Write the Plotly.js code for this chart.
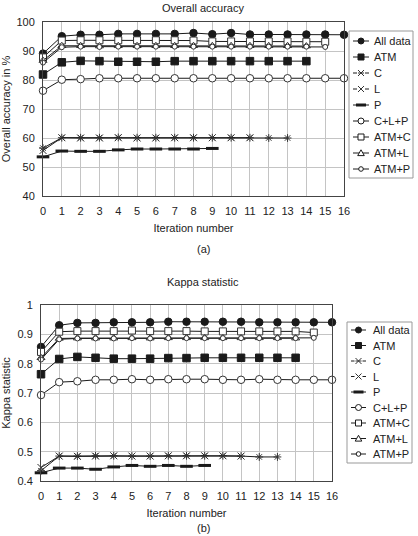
<!DOCTYPE html>
<html>
<head>
<meta charset="utf-8">
<script src="https://cdn.plot.ly/plotly-3.0.1.min.js"></script>
<style>html,body{margin:0;padding:0;background:#fff;}#chart{width:418px;height:536px;}</style>
</head>
<body>
<div id="chart"></div>
<script>
// ---- data ----
const iterations = [0,1,2,3,4,5,6,7,8,9,10,11,12,13,14,15,16];
const seriesNames = ["All data","ATM","C","L","P","C+L+P","ATM+C","ATM+L","ATM+P"];
const xTickLabels = ["0","1","2","3","4","5","6","7","8","9","10","11","12","13","14","15","16"];

// (a) Overall accuracy in %
const accAllData = [89.1,95.1,95.6,95.6,95.9,95.9,95.9,95.9,96.2,95.8,96.2,95.7,95.7,95.7,95.7,95.7,95.6];
const accATM     = [81.9,86.1,86.6,86.5,86.3,86.3,86.3,86.5,86.5,86.5,86.5,86.5,86.5,86.5,86.5];
const accC       = [56.5,60.1,60.1,60.1,60.2,60.1,60.1,60.1,60.1,60.1,60.1,60.1,60.0,60.0];
const accL       = [55.7,60.1,60.0,60.0,60.1,60.0,60.0,60.1,60.1,60.1,60.1,60.1];
const accP       = [53.5,55.5,55.4,55.4,55.9,56.2,56.2,56.2,56.2,56.4];
const accCLP     = [76.3,80.1,80.3,80.6,80.6,80.6,80.6,80.6,80.6,80.6,80.6,80.6,80.6,80.6,80.6,80.6,80.6];
const accATMC    = [87.8,93.6,93.7,93.7,93.7,93.7,93.7,93.7,93.6,93.3,93.3,93.3,93.3,93.3,93.2,93.2];
const accATML    = [86.7,91.8,91.8,91.7,91.8,91.8,91.8,91.8,91.8,91.8,91.8,91.8,91.8,91.8,91.7];
const accATMP    = [86.0,91.3,91.5,91.4,91.5,91.5,91.5,91.5,91.5,91.5,91.5,91.5,91.5,91.5,91.5,91.4];

// (b) Kappa statistic
const kapAllData = [0.857,0.931,0.939,0.939,0.941,0.941,0.941,0.943,0.943,0.943,0.943,0.943,0.941,0.941,0.941,0.941,0.941];
const kapATM     = [0.764,0.816,0.823,0.820,0.817,0.817,0.817,0.819,0.819,0.820,0.820,0.820,0.820,0.820,0.820];
const kapC       = [0.435,0.485,0.485,0.486,0.486,0.485,0.485,0.486,0.486,0.486,0.486,0.485,0.482,0.482];
const kapL       = [0.446,0.485,0.484,0.485,0.486,0.485,0.485,0.486,0.486,0.486,0.486,0.485];
const kapP       = [0.428,0.444,0.444,0.440,0.448,0.453,0.450,0.453,0.450,0.453];
const kapCLP     = [0.693,0.737,0.740,0.745,0.745,0.747,0.745,0.747,0.747,0.747,0.745,0.745,0.747,0.745,0.745,0.745,0.745];
const kapATMC    = [0.840,0.909,0.911,0.911,0.911,0.913,0.911,0.911,0.911,0.910,0.910,0.910,0.910,0.910,0.910,0.906];
const kapATML    = [0.820,0.886,0.887,0.887,0.887,0.888,0.887,0.888,0.888,0.888,0.888,0.888,0.888,0.888,0.887];
const kapATMP    = [0.814,0.883,0.886,0.886,0.886,0.887,0.886,0.887,0.887,0.887,0.887,0.887,0.887,0.887,0.887,0.888];

// ---- styles ----
const FONT = "Liberation Sans, Arial, sans-serif";
const INK = "#1a1a1a";
const markerStyles = {
  "All data": {symbol:"circle", size:7.5, color:INK, line:{color:INK, width:1}},
  "ATM":      {symbol:"square", size:7.5, color:INK, line:{color:INK, width:1}},
  "C":        {symbol:"asterisk-open", size:6.5, color:"#333", line:{color:"#333", width:1}},
  "L":        {symbol:"x-thin-open", size:7, color:"#333", line:{color:"#333", width:1}},
  "P":        {symbol:"line-ew-open", size:9, color:INK, line:{color:INK, width:3}},
  "C+L+P":    {symbol:"circle", size:7.5, color:"#fff", line:{color:"#333", width:1}},
  "ATM+C":    {symbol:"square", size:7, color:"#fff", line:{color:"#333", width:1}},
  "ATM+L":    {symbol:"triangle-up", size:7, color:"#fff", line:{color:"#333", width:1}},
  "ATM+P":    {symbol:"circle", size:5, color:"#fff", line:{color:"#333", width:1}}
};

const accSeries = [accAllData,accATM,accC,accL,accP,accCLP,accATMC,accATML,accATMP];
const kapSeries = [kapAllData,kapATM,kapC,kapL,kapP,kapCLP,kapATMC,kapATML,kapATMP];

function makeTraces(seriesList, xa, ya) {
  return seriesList.map((vals, i) => ({
    type: "scatter",
    mode: "lines+markers",
    name: seriesNames[i],
    x: iterations.slice(0, vals.length),
    y: vals,
    xaxis: xa, yaxis: ya,
    showlegend: false,
    cliponaxis: false,
    line: {color: INK, width: 1},
    marker: markerStyles[seriesNames[i]]
  }));
}

const traces = makeTraces(accSeries, "x", "y").concat(makeTraces(kapSeries, "x2", "y2"));

const W = 418, H = 536;
const px = v => v / W;
const py = v => 1 - v / H;

// ---- compact legend boxes (layout decoration: box, sample glyphs, real-text labels) ----
function legendParts(box, firstY, step, symX0, symX1, textX) {
  const shapes = [], annos = [];
  shapes.push({type:"rect", xref:"paper", yref:"paper", x0:px(box[0]), x1:px(box[1]), y0:py(box[3]), y1:py(box[2]),
               line:{color:"#999", width:1}, fillcolor:"#fff", layer:"above"});
  const cx = (symX0 + symX1) / 2;
  seriesNames.forEach((name, i) => {
    const y = firstY + i * step;
    const ln = {color: INK, width: 1};
    const seg = (a, b, c, d, l) => shapes.push({type:"line", xref:"paper", yref:"paper",
      x0:px(a), y0:py(b), x1:px(c), y1:py(d), line:l || ln, layer:"above"});
    if (name === "C" || name === "L") {
      seg(symX0, y, cx - 4, y); seg(cx + 4, y, symX1, y);
    } else if (name === "P") {
      seg(symX0, y, symX1, y, {color: INK, width: 1});
      seg(cx - 5, y, cx + 5, y, {color: INK, width: 3});
    } else {
      seg(symX0, y, symX1, y);
    }
    const st = markerStyles[name];
    const r = 3;
    const fill = st.color;
    if (name === "All data" || name === "C+L+P" || name === "ATM+P") {
      const rr = name === "ATM+P" ? 2.3 : r;
      shapes.push({type:"circle", xref:"paper", yref:"paper", x0:px(cx-rr), x1:px(cx+rr), y0:py(y+rr), y1:py(y-rr),
                   fillcolor:fill, line:{color:INK, width:1}, layer:"above"});
    } else if (name === "ATM" || name === "ATM+C") {
      shapes.push({type:"rect", xref:"paper", yref:"paper", x0:px(cx-r), x1:px(cx+r), y0:py(y+r), y1:py(y-r),
                   fillcolor:fill, line:{color:INK, width:1}, layer:"above"});
    } else if (name === "ATM+L") {
      shapes.push({type:"path", xref:"paper", yref:"paper",
                   path:"M" + px(cx-3.3) + "," + py(y+2.6) + " L" + px(cx+3.3) + "," + py(y+2.6) + " L" + px(cx) + "," + py(y-3.2) + " Z",
                   fillcolor:"#fff", line:{color:INK, width:1}, layer:"above"});
    } else if (name === "C" || name === "L") {
      const l2 = {color:"#333", width:1};
      seg(cx-3, y-3, cx+3, y+3, l2); seg(cx-3, y+3, cx+3, y-3, l2);
      if (name === "C") { seg(cx-3, y, cx+3, y, l2); }
    }
    annos.push({text: name, xref:"paper", yref:"paper", x: px(textX), y: py(y), xanchor:"left", yanchor:"middle",
                showarrow:false, font:{family: FONT, size: 11, color: "#222"}});
  });
  return {shapes, annos};
}

const legA = legendParts([349, 413, 31, 178], 41, 16.0, 353, 369, 372);
const legB = legendParts([347, 412, 322, 463], 330, 15.5, 351, 366, 371);

const axisCommon = {
  showline: true, mirror: true, linecolor: "#444", linewidth: 1,
  showgrid: true, gridcolor: "#c4c4c4", gridwidth: 1,
  zeroline: false, ticks: "",
  tickfont: {family: FONT, size: 11, color: "#222"},
  ticklabelstandoff: 5
};

const layout = {
  width: W, height: H,
  margin: {l: 0, r: 0, t: 0, b: 0},
  paper_bgcolor: "#fff", plot_bgcolor: "#fff",
  font: {family: FONT, size: 11, color: "#222"},
  showlegend: false,
  title: {text: "Overall accuracy", font: {family: FONT, size: 11, color: "#222"},
          x: 203/W, xanchor: "center", y: 1 - 8/H, yanchor: "middle", xref: "paper", yref: "paper"},
  xaxis: Object.assign({}, axisCommon, {
    domain: [43/W, 344/W], range: [0, 16], tickvals: iterations, ticktext: xTickLabels, anchor: "y",
    title: {text: "Iteration number", font: {family: FONT, size: 11, color: "#222"}, standoff: 8}
  }),
  yaxis: Object.assign({}, axisCommon, {
    domain: [1 - 196/H, 1 - 22/H], range: [40, 100], dtick: 10, anchor: "x",
    title: {text: "Overall accuracy in %", font: {family: FONT, size: 11, color: "#222"}, standoff: 8}
  }),
  xaxis2: Object.assign({}, axisCommon, {
    domain: [41/W, 332/W], range: [0, 16], tickvals: iterations, ticktext: xTickLabels, anchor: "y2",
    title: {text: "Iteration number", font: {family: FONT, size: 11, color: "#222"}, standoff: 8}
  }),
  yaxis2: Object.assign({}, axisCommon, {
    domain: [1 - 481/H, 1 - 305/H], range: [0.4, 1], dtick: 0.1, anchor: "x2",
    title: {text: "Kappa statistic", font: {family: FONT, size: 11, color: "#222"}, standoff: 8}
  }),
  shapes: legA.shapes.concat(legB.shapes),
  annotations: [
    {text: "(a)", xref: "paper", yref: "paper", x: 203/W, y: 1 - 249/H, showarrow: false,
     xanchor: "center", yanchor: "middle", font: {family: FONT, size: 11, color: "#222"}},
    {text: "Kappa statistic", xref: "paper", yref: "paper", x: 203/W, y: 1 - 282/H, showarrow: false,
     xanchor: "center", yanchor: "middle", font: {family: FONT, size: 11, color: "#222"}},
    {text: "(b)", xref: "paper", yref: "paper", x: 203/W, y: 1 - 528/H, showarrow: false,
     xanchor: "center", yanchor: "middle", font: {family: FONT, size: 11, color: "#222"}}
  ].concat(legA.annos, legB.annos)
};

Plotly.newPlot("chart", traces, layout, {displayModeBar: false, staticPlot: true});
</script>
</body>
</html>
